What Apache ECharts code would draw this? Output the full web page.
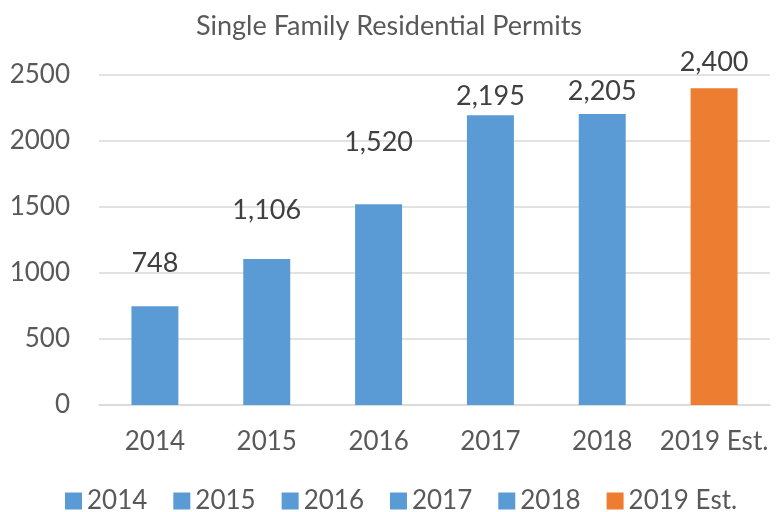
<!DOCTYPE html>
<html>
<head>
<meta charset="utf-8">
<script src="https://cdn.jsdelivr.net/npm/echarts@6/dist/echarts.min.js"></script>
<style>
  html, body { margin: 0; padding: 0; background: #fff; }
  #chart { width: 778px; height: 512px; }
</style>
</head>
<body>
<div id="chart"></div>
<script>
// permits per year
const categories = ['2014', '2015', '2016', '2017', '2018', '2019 Est.'];
const permits = [748, 1106, 1520, 2195, 2205, 2400];
const barColors = ['#5B9BD5', '#5B9BD5', '#5B9BD5', '#5B9BD5', '#5B9BD5', '#ED7D31'];
// data labels in the source sit at uneven heights above the bars
const labelGaps = [29, 35, 49, 5, 9, 12];

const font = 'Lato, "Open Sans", sans-serif';

// one series per year so the legend lists every year
const series = categories.map((name, i) => ({
  name: name,
  type: 'bar',
  stack: 'all',
  barWidth: '42%',
  itemStyle: { color: barColors[i] },
  data: categories.map((c, j) => (j === i ? permits[j] : null)),
  label: {
    show: true,
    position: 'top',
    distance: labelGaps[i],
    color: '#404040',
    fontSize: 27,
    fontFamily: font,
    formatter: p => p.value.toLocaleString('en-US')
  }
}));

const chart = echarts.init(document.getElementById('chart'));
chart.setOption({
  animation: false,
  title: {
    text: 'Single Family Residential Permits',
    left: 'center',
    top: 8,
    textStyle: { color: '#595959', fontSize: 27, fontWeight: 'normal', fontFamily: font }
  },
  legend: {
    bottom: -7,
    left: 60,
    icon: 'rect',
    itemWidth: 17,
    itemHeight: 17,
    itemGap: 26,
    data: categories,
    textStyle: { color: '#595959', fontSize: 26, fontFamily: font }
  },
  grid: { left: 99, right: 8, top: 75, bottom: 107 },
  xAxis: {
    type: 'category',
    data: categories,
    axisTick: { show: false },
    axisLine: { lineStyle: { color: '#d9d9d9', width: 1.5 } },
    axisLabel: { color: '#595959', fontSize: 26, fontFamily: font, margin: 24, interval: 0 }
  },
  yAxis: {
    type: 'value',
    min: 0,
    max: 2500,
    interval: 500,
    axisLabel: { color: '#595959', fontSize: 26, fontFamily: font, margin: 29, formatter: v => String(v) },
    splitLine: { lineStyle: { color: '#d9d9d9', width: 1.5 } }
  },
  series: series
});
</script>
</body>
</html>
